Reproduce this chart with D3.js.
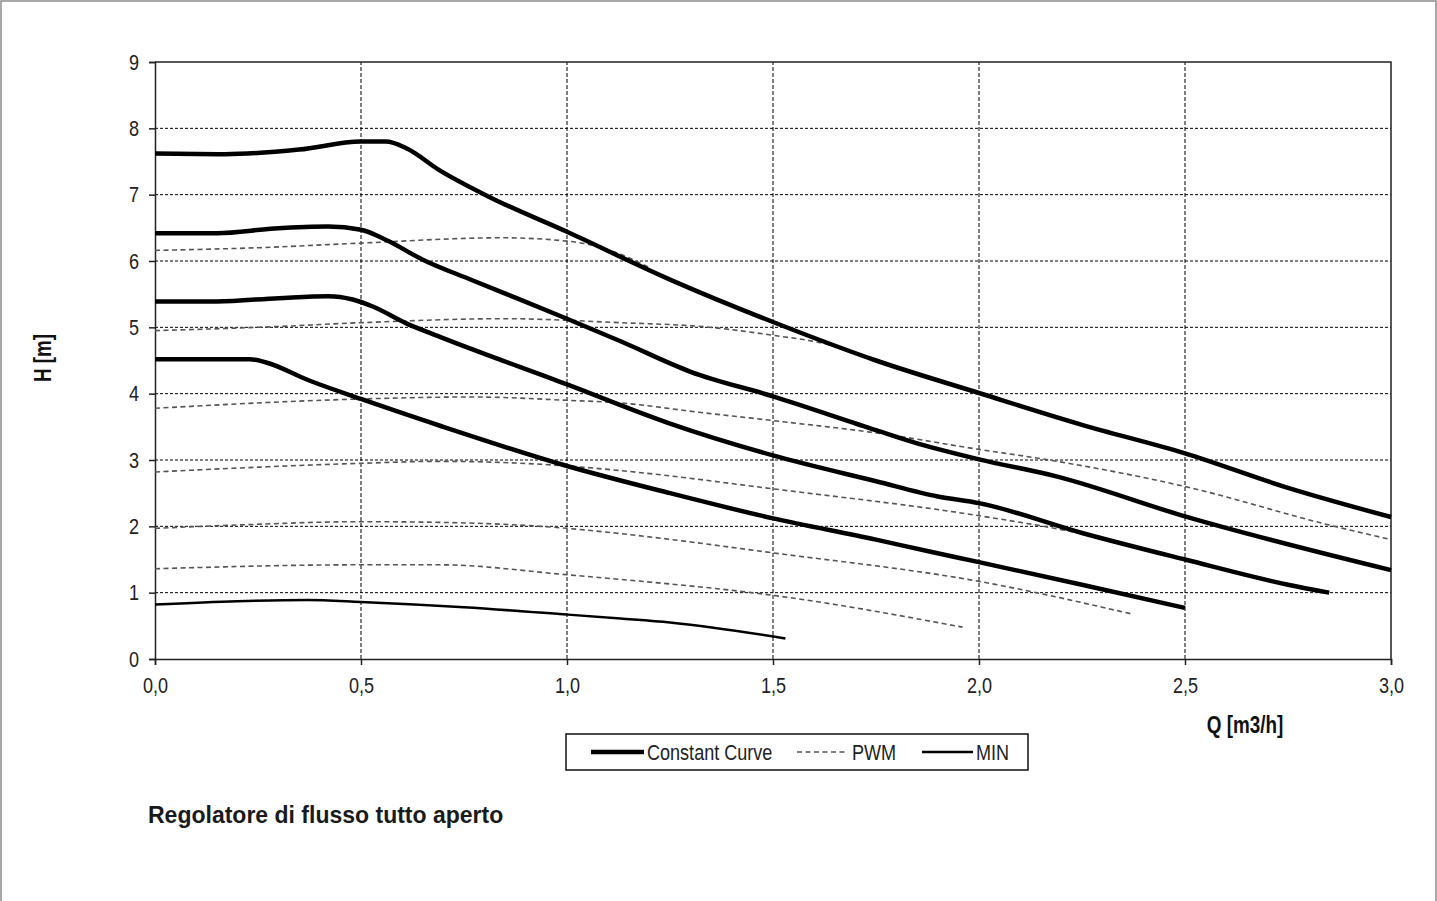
<!DOCTYPE html>
<html>
<head>
	<title>Regolatore di flusso tutto aperto</title>
	<script src="https://d3js.org/d3.v7.min.js" charset="utf-8"></script>
	<style>
		body { margin: 0; background: #fff; }
		.narrow { font-family: "Liberation Sans Narrow", "Arial Narrow", "Liberation Sans", Arial, sans-serif; }
	</style>
</head>
<body>
	<svg width="1437" height="901"></svg>
	<script>
		// tick labels (comma decimals as in the original)
		const xTicks = [0, 0.5, 1.0, 1.5, 2.0, 2.5, 3.0];
		const xTickLabels = ['0,0', '0,5', '1,0', '1,5', '2,0', '2,5', '3,0'];
		const yTicks = [0, 1, 2, 3, 4, 5, 6, 7, 8, 9];

		// constant curves [Q, H]
		const constant1 = [[0,7.62],[0.17,7.61],[0.35,7.68],[0.5,7.8],[0.56,7.8],[0.61,7.7],[0.69,7.37],[0.81,6.97],[1.0,6.44],[1.25,5.72],[1.5,5.08],[1.75,4.5],[2.0,4.01],[2.25,3.53],[2.5,3.1],[2.75,2.58],[3.0,2.14]];
		const constant2 = [[0,6.42],[0.15,6.42],[0.29,6.49],[0.42,6.52],[0.5,6.47],[0.56,6.32],[0.65,6.02],[0.77,5.71],[1.0,5.13],[1.13,4.79],[1.3,4.33],[1.5,3.96],[1.75,3.45],[1.84,3.27],[2.0,3.01],[2.19,2.75],[2.5,2.15],[3.0,1.34]];
		const constant3 = [[0,5.39],[0.15,5.39],[0.3,5.44],[0.42,5.47],[0.48,5.42],[0.53,5.31],[0.61,5.06],[0.69,4.86],[1.0,4.14],[1.25,3.55],[1.5,3.07],[1.75,2.68],[1.9,2.45],[2.0,2.35],[2.25,1.9],[2.5,1.5],[2.75,1.12],[2.85,1.0]];
		const constant4 = [[0,4.52],[0.23,4.52],[0.27,4.47],[0.37,4.21],[0.5,3.92],[0.69,3.52],[1.0,2.91],[1.25,2.5],[1.5,2.12],[1.75,1.8],[1.88,1.62],[2.0,1.46],[2.25,1.12],[2.5,0.77]];

		// MIN curve
		const minCurve = [[0,0.82],[0.2,0.87],[0.37,0.89],[0.5,0.86],[0.75,0.78],[1.0,0.67],[1.13,0.61],[1.25,0.55],[1.53,0.31]];

		// PWM curves
		const pwm1 = [[0,6.16],[0.25,6.2],[0.5,6.27],[0.84,6.35],[1.0,6.3],[1.06,6.24],[1.13,6.1],[1.2,5.9]];
		const pwm2 = [[0,4.95],[0.29,5.01],[0.5,5.07],[0.85,5.13],[1.13,5.07],[1.33,5.01],[1.5,4.88],[1.62,4.76],[1.7,4.62]];
		const pwm3 = [[0,3.78],[0.5,3.92],[0.77,3.95],[1.0,3.9],[1.13,3.86],[1.32,3.72],[1.52,3.58],[1.76,3.4],[2.0,3.16],[2.15,3.02],[2.5,2.6],[2.85,2.02],[3.0,1.8]];
		const pwm4 = [[0,2.82],[0.5,2.95],[0.69,2.98],[1.0,2.91],[1.13,2.84],[1.52,2.55],[2.0,2.16],[2.24,1.9],[2.5,1.49],[2.85,1.0]];
		const pwm5 = [[0,1.97],[0.2,2.02],[0.5,2.07],[0.69,2.06],[1.0,1.97],[1.13,1.89],[1.5,1.6],[2.0,1.17],[2.37,0.68]];
		const pwm6 = [[0,1.36],[0.5,1.42],[0.69,1.42],[1.0,1.27],[1.13,1.2],[1.5,0.96],[1.96,0.48]];

		const svg = d3.select('svg');

		// the original uses a narrow face; squeeze the regular one when no narrow font is installed
		function condense(sel, f) {
			if (f === 1) return;
			sel.each(function() {
				const w = this.getComputedTextLength();
				d3.select(this).attr('textLength', w * f).attr('lengthAdjust', 'spacingAndGlyphs');
			});
		}
		const ctx = document.createElement('canvas').getContext('2d');
		ctx.font = '22px "Liberation Sans Narrow", monospace';
		const wNarrow = ctx.measureText('Constant Curve 0,5').width;
		ctx.font = '22px monospace';
		const wMono = ctx.measureText('Constant Curve 0,5').width;
		const squeeze = Math.abs(wNarrow - wMono) < 0.5 ? 0.82 : 1;

		// outer frame
		svg.append('rect')
			.attr('x', 1).attr('y', 1)
			.attr('width', 1435).attr('height', 910)
			.attr('fill', 'none')
			.attr('stroke', '#8a8a8a')
			.attr('stroke-width', 1.5);

		const x = d3.scaleLinear().domain([0, 3]).range([155, 1391]);
		const y = d3.scaleLinear().domain([0, 9]).range([659, 62]);

		// grid
		const grid = svg.append('g');
		grid.selectAll('.hg')
			.data(yTicks.filter(d => d > 0 && d < 9))
			.enter().append('line')
			.attr('x1', x(0)).attr('x2', x(3))
			.attr('y1', d => y(d)).attr('y2', d => y(d))
			.attr('stroke', '#000').attr('stroke-width', 1)
			.attr('stroke-dasharray', '3,2');
		grid.selectAll('.vg')
			.data(xTicks.filter(d => d > 0 && d < 3))
			.enter().append('line')
			.attr('x1', d => x(d)).attr('x2', d => x(d))
			.attr('y1', y(0)).attr('y2', y(9))
			.attr('stroke', '#000').attr('stroke-width', 1)
			.attr('stroke-dasharray', '4,2');

		// top and right border
		svg.append('path')
			.attr('d', `M${x(0)},${y(9)}H${x(3)}V${y(0)}`)
			.attr('fill', 'none').attr('stroke', '#222').attr('stroke-width', 1.5);

		// axes
		const yAxis = svg.append('g')
			.attr('transform', `translate(${x(0)},0)`)
			.call(d3.axisLeft(y).tickValues(yTicks).tickFormat(d3.format('d')).tickSize(6).tickPadding(10));
		const xAxis = svg.append('g')
			.attr('transform', `translate(0,${y(0)})`)
			.call(d3.axisBottom(x).tickValues(xTicks).tickFormat((d, i) => xTickLabels[i]).tickSize(6).tickPadding(12));

		[yAxis, xAxis].forEach(a => {
			a.select('.domain').attr('stroke', '#222').attr('stroke-width', 1.5);
			a.selectAll('.tick line').attr('stroke', '#222').attr('stroke-width', 1.5);
			a.selectAll('text')
				.attr('class', 'narrow')
				.style('font-size', '22px')
				.attr('fill', '#222')
				.call(condense, squeeze);
		});

		// curves
		const line = d3.line()
			.x(d => x(d[0]))
			.y(d => y(d[1]))
			.curve(d3.curveMonotoneX);

		const curves = svg.append('g');

		curves.selectAll('.pwm')
			.data([pwm1, pwm2, pwm3, pwm4, pwm5, pwm6])
			.enter().append('path')
			.attr('d', line)
			.attr('fill', 'none')
			.attr('stroke', '#555')
			.attr('stroke-width', 1.6)
			.attr('stroke-dasharray', '5,3.5');

		curves.append('path')
			.attr('d', line(minCurve))
			.attr('fill', 'none')
			.attr('stroke', '#000')
			.attr('stroke-width', 2.5);

		curves.selectAll('.const')
			.data([constant1, constant2, constant3, constant4])
			.enter().append('path')
			.attr('d', line)
			.attr('fill', 'none')
			.attr('stroke', '#000')
			.attr('stroke-width', 4.5)
			.attr('stroke-linejoin', 'round');

		// axis titles
		svg.append('text')
			.attr('class', 'narrow')
			.attr('transform', 'translate(51,358) rotate(-90)')
			.attr('text-anchor', 'middle')
			.style('font-size', '23px')
			.style('font-weight', 'bold')
			.attr('fill', '#111')
			.text('H [m]')
			.call(condense, squeeze);

		svg.append('text')
			.attr('class', 'narrow')
			.attr('x', 1245).attr('y', 733)
			.attr('text-anchor', 'middle')
			.style('font-size', '23px')
			.style('font-weight', 'bold')
			.attr('fill', '#111')
			.text('Q [m3/h]')
			.call(condense, squeeze);

		// legend
		const legend = svg.append('g');
		legend.append('rect')
			.attr('x', 566).attr('y', 734)
			.attr('width', 462).attr('height', 36)
			.attr('fill', '#fff')
			.attr('stroke', '#111').attr('stroke-width', 1.5);

		const legendItems = [
			{ label: 'Constant Curve', x1: 591, x2: 644, tx: 647, w: 4.5, dash: null },
			{ label: 'PWM', x1: 797, x2: 845, tx: 852, w: 1.6, dash: '5,3.5' },
			{ label: 'MIN', x1: 922, x2: 973, tx: 976, w: 2.5, dash: null }
		];
		legendItems.forEach(it => {
			legend.append('line')
				.attr('x1', it.x1).attr('x2', it.x2)
				.attr('y1', 752).attr('y2', 752)
				.attr('stroke', it.dash ? '#555' : '#000')
				.attr('stroke-width', it.w)
				.attr('stroke-dasharray', it.dash);
			legend.append('text')
				.attr('class', 'narrow')
				.attr('x', it.tx).attr('y', 760)
				.style('font-size', '22px')
				.attr('fill', '#222')
				.text(it.label)
				.call(condense, squeeze);
		});

		// caption
		svg.append('text')
			.attr('x', 148).attr('y', 823)
			.style('font-family', '"Liberation Sans", Arial, sans-serif')
			.style('font-size', '23px')
			.style('font-weight', 'bold')
			.attr('fill', '#1a1a1a')
			.text('Regolatore di flusso tutto aperto');
	</script>
</body>
</html>
